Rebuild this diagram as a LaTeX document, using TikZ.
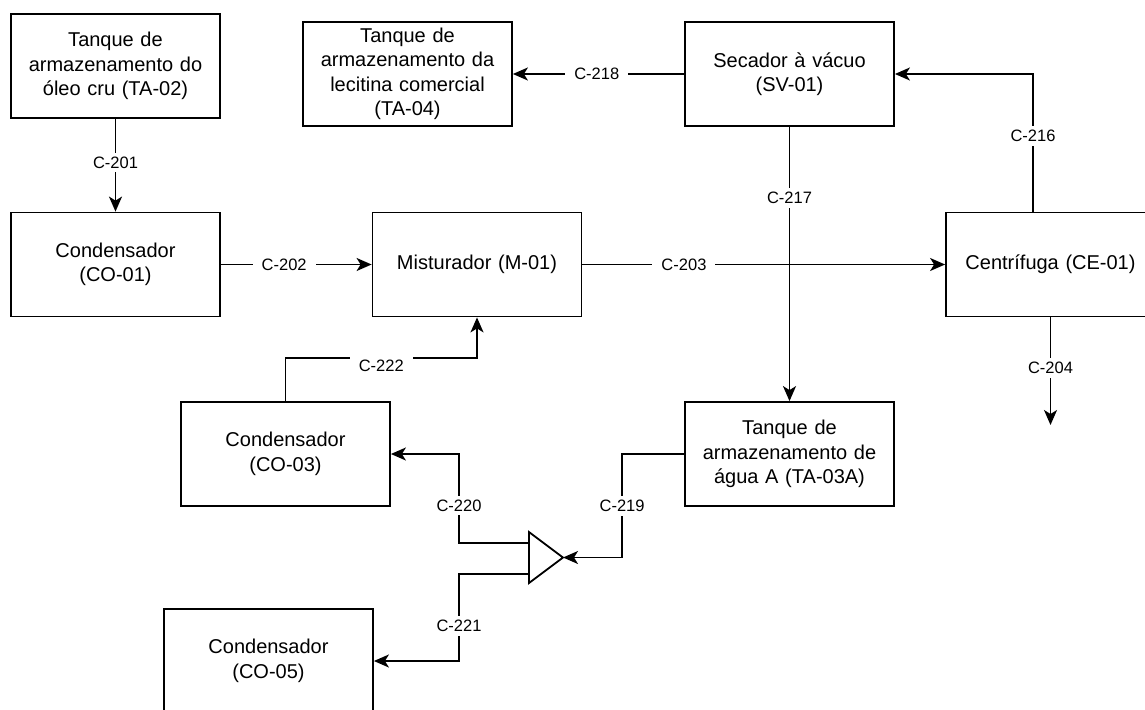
\documentclass[tikz,border=0pt]{standalone}
\usepackage{fontspec}
\setmainfont{Liberation Sans}
\usepackage{tikz}
\usetikzlibrary{arrows.meta, positioning, calc, shapes.geometric}
\newcommand{\unitfont}{\fontsize{20}{24.5}\selectfont}
\newcommand{\tagfont}{\fontsize{16.5}{18}\selectfont}
\tikzset{
  unit/.style={draw, line width=1.8pt, minimum width=209pt, minimum height=104pt,
               text width=200pt, align=center, font=\unitfont, inner sep=0pt},
  flow/.style={line width=1.8pt, -{Stealth[length=15pt, width=13pt, inset=4pt]}},
  pipe/.style={line width=1.8pt},
  tag/.style={fill=white, font=\tagfont, inner xsep=9pt, inner ysep=4pt}
}

\begin{document}
\begin{tikzpicture}[x=1pt, y=-1pt]
  \useasboundingbox (0,0) rectangle (1145,709);

  \node[unit] (ta02)  at (115.5,66)   {Tanque de\\armazenamento do\\óleo cru (TA-02)};
  \node[unit] (ta04)  at (407.5,74)   {Tanque de\\armazenamento da\\lecitina comercial\\(TA-04)};
  \node[unit] (sv01)  at (789.5,74)   {Secador à vácuo\\(SV-01)};
  \node[unit] (co01)  at (115.5,264.5) {Condensador\\(CO-01)};
  \node[unit] (m01)   at (477,264.5)  {Misturador (M-01)};
  \node[unit] (ce01)  at (1050.5,264.5) {Centrífuga (CE-01)};
  \node[unit] (co03)  at (285.5,454)  {Condensador\\(CO-03)};
  \node[unit] (ta03a) at (789.5,454)  {Tanque de\\armazenamento de\\água A (TA-03A)};
  \node[unit] (co05)  at (268.5,661)  {Condensador\\(CO-05)};

  % divisor de corrente
  \draw[pipe] (529,532) -- (563,557.5) -- (529,583) -- cycle;
  \coordinate (spl)  at (563,557.5);
  \coordinate (splA) at (529,543);
  \coordinate (splB) at (529,574);
  \coordinate (c204end) at (1050.5,425);

  \draw[flow] (ta02.south) -- node[tag, pos=0.47] {C-201} (co01.north);
  \draw[flow] (co01.east) -- node[tag, pos=0.42] {C-202} (m01.west);
  \draw[flow] (m01.east) -- node[tag, pos=0.28] {C-203} (ce01.west);
  \draw[flow] (ce01.south) -- node[tag, pos=0.47] {C-204} (c204end);
  \draw[flow] ([xshift=-17.5pt]ce01.north) |- node[tag, pos=0.275] {C-216} (sv01.east);
  \draw[flow] (sv01.south) -- node[tag, pos=0.26] {C-217} (ta03a.north);
  \draw[flow] (sv01.west) -- node[tag, pos=0.51] {C-218} (ta04.east);
  \draw[flow] (ta03a.west) -- ++(-62,0) |- node[tag, pos=0.25] {C-219} (spl);
  \draw[flow] (splA) -- ++(-70,0) |- node[tag, pos=0.21] {C-220} (co03.east);
  \draw[flow] (splB) -- ++(-70,0) |- node[tag, pos=0.3] {C-221} (co05.east);
  \draw[flow] (co03.north) -- ++(0,-43) -| node[tag, pos=0.25, yshift=-8pt] {C-222} (m01.south);
\end{tikzpicture}
\end{document}
